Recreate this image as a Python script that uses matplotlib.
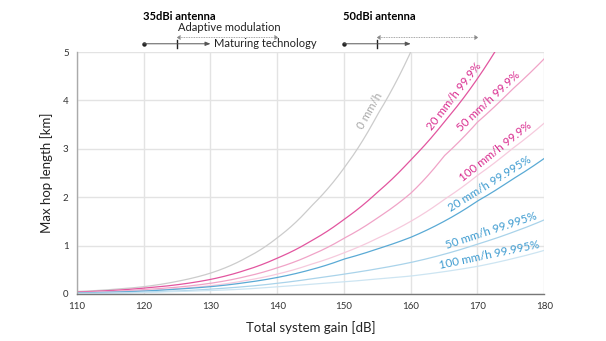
import numpy as np
import matplotlib.pyplot as plt

plt.rcParams['font.family'] = ['Lato', 'DejaVu Sans']

# total system gain [dB] sampled every 5 dB
gain = [110, 115, 120, 125, 130, 135, 140, 145, 150, 155, 160, 165, 170, 175, 180]

# max hop length [km]
hop_0mm = [0.05, 0.09, 0.15, 0.26, 0.43, 0.72, 1.16, 1.8, 2.6, 3.7, 5.0]
hop_20_999 = [0.04, 0.07, 0.12, 0.19, 0.30, 0.48, 0.74, 1.09, 1.54, 2.1, 2.77, 3.55, 4.45, 5.0]
gain_20_999 = [110, 115, 120, 125, 130, 135, 140, 145, 150, 155, 160, 165, 170, 172.6]
hop_50_999 = [0.03, 0.05, 0.09, 0.14, 0.22, 0.35, 0.54, 0.8, 1.15, 1.57, 2.08, 2.85, 3.55, 4.2, 4.86]
hop_100_999 = [0.02, 0.04, 0.07, 0.11, 0.17, 0.27, 0.41, 0.61, 0.85, 1.15, 1.5, 1.95, 2.45, 2.98, 3.53]
hop_20_99995 = [0.02, 0.035, 0.06, 0.1, 0.15, 0.23, 0.34, 0.5, 0.72, 0.93, 1.17, 1.5, 1.92, 2.35, 2.8]
hop_50_99995 = [0.01, 0.02, 0.04, 0.06, 0.1, 0.15, 0.22, 0.31, 0.41, 0.52, 0.65, 0.82, 1.03, 1.26, 1.53]
hop_100_99995 = [0.01, 0.015, 0.03, 0.05, 0.07, 0.1, 0.15, 0.2, 0.25, 0.31, 0.37, 0.46, 0.57, 0.72, 0.9]

series_labels = ['0 mm/h', '20 mm/h 99.9%', '50 mm/h 99.9%', '100 mm/h 99.9%',
                 '20 mm/h 99.995%', '50 mm/h 99.995%', '100 mm/h 99.995%']
label_at = [155, 167.5, 172.5, 173.5, 172.5, 172.5, 172]   # gain where each label sits

# antenna ranges: start dot, tick, arrow end, dotted end
ant_names = ['35dBi antenna', '50dBi antenna']
ant_start = [120, 150]
ant_mid = [125, 155]
ant_end = [130, 160]
ant_dotted_end = [140, 170]

line_colors = ['#cccccc', '#e2559f', '#f0a3c7', '#f6cadd', '#5aaad5', '#a9d3ea', '#cde5f2']
text_colors = ['#a8a8a8', '#d92c8f', '#d92c8f', '#d92c8f', '#3d9bd0', '#3d9bd0', '#3d9bd0']

fig = plt.figure(figsize=(6.06, 3.41), dpi=100)
ax = fig.add_axes([0.127, 0.138, 0.771, 0.7095])
ax.set_xlim(110, 180)
ax.set_ylim(0, 5)

series = [(gain[:len(hop_0mm)], hop_0mm), (gain_20_999, hop_20_999), (gain, hop_50_999),
          (gain, hop_100_999), (gain, hop_20_99995), (gain, hop_50_99995), (gain, hop_100_99995)]

off = 8.5 * 0.72  # label offset from its curve, in points
for (x, y), col, lab, g, tcol in zip(series, line_colors, series_labels, label_at, text_colors):
    x = np.asarray(x, float)
    logy = np.log(np.asarray(y, float))
    # read points joined by exponential segments (straight in log space)
    xs = np.linspace(x[0], x[-1], 400)
    ax.plot(xs, np.exp(np.interp(xs, x, logy)), color=col, lw=0.9)

    # label sits parallel to the curve, a few px above it
    p0 = ax.transData.transform((g - 0.5, np.exp(np.interp(g - 0.5, x, logy))))
    p1 = ax.transData.transform((g + 0.5, np.exp(np.interp(g + 0.5, x, logy))))
    ang = np.arctan2(p1[1] - p0[1], p1[0] - p0[0])
    ax.annotate(lab, xy=(g, np.exp(np.interp(g, x, logy))),
                xytext=(-off * np.sin(ang), off * np.cos(ang)), textcoords='offset points',
                rotation=np.degrees(ang), rotation_mode='anchor', ha='center', va='center',
                color=tcol, fontsize=8.3)

# antenna annotations above the plot
for name, s, m, e, d in zip(ant_names, ant_start, ant_mid, ant_end, ant_dotted_end):
    ax.text((s + e) / 2 + 0.3, 5.74, name, ha='center', va='center', fontsize=8, fontweight='bold', clip_on=False)
    ax.plot([m, d], [5.31, 5.31], color='#888888', lw=0.6, linestyle=(0, (1, 1)), clip_on=False)
    ax.plot([m], [5.31], marker=4, color='#888888', ms=2.5, mew=0.6, clip_on=False)
    ax.plot([d], [5.31], marker=5, color='#888888', ms=2.5, mew=0.6, clip_on=False)
    ax.annotate('', xy=(e, 5.17), xytext=(s, 5.17), annotation_clip=False,
                arrowprops=dict(arrowstyle='-|>,head_length=0.3,head_width=0.12', color='#555555',
                                lw=0.7, shrinkA=0, shrinkB=0))
    ax.plot([s], [5.17], 'o', color='#222222', ms=2.2, clip_on=False)
    ax.plot([m, m], [5.09, 5.25], color='#222222', lw=1.0, clip_on=False)

ax.text(132.8, 5.50, 'Adaptive modulation', ha='center', va='center', fontsize=8, color='#222222', clip_on=False)
ax.text(130.5, 5.17, 'Maturing technology', ha='left', va='center', fontsize=8, color='#222222', clip_on=False)

ax.set_xticks(range(110, 181, 10))
ax.set_yticks(range(0, 6))
ax.grid(True, color='#e3e3e3', lw=1.0)
ax.set_axisbelow(True)
ax.tick_params(length=0, labelsize=7, colors='#333333', pad=6)
for sp in ['top', 'right']:
    ax.spines[sp].set_visible(False)
ax.spines['left'].set_color('#aaaaaa')
ax.spines['bottom'].set_color('#777777')
ax.spines['left'].set_linewidth(1.0)
ax.spines['bottom'].set_linewidth(1.0)

ax.set_xlabel('Total system gain [dB]', fontsize=9.5, color='#222222', labelpad=7)
ax.set_ylabel('Max hop length [km]', fontsize=9.5, color='#222222', labelpad=7)

fig.savefig('out.png', dpi=100)
